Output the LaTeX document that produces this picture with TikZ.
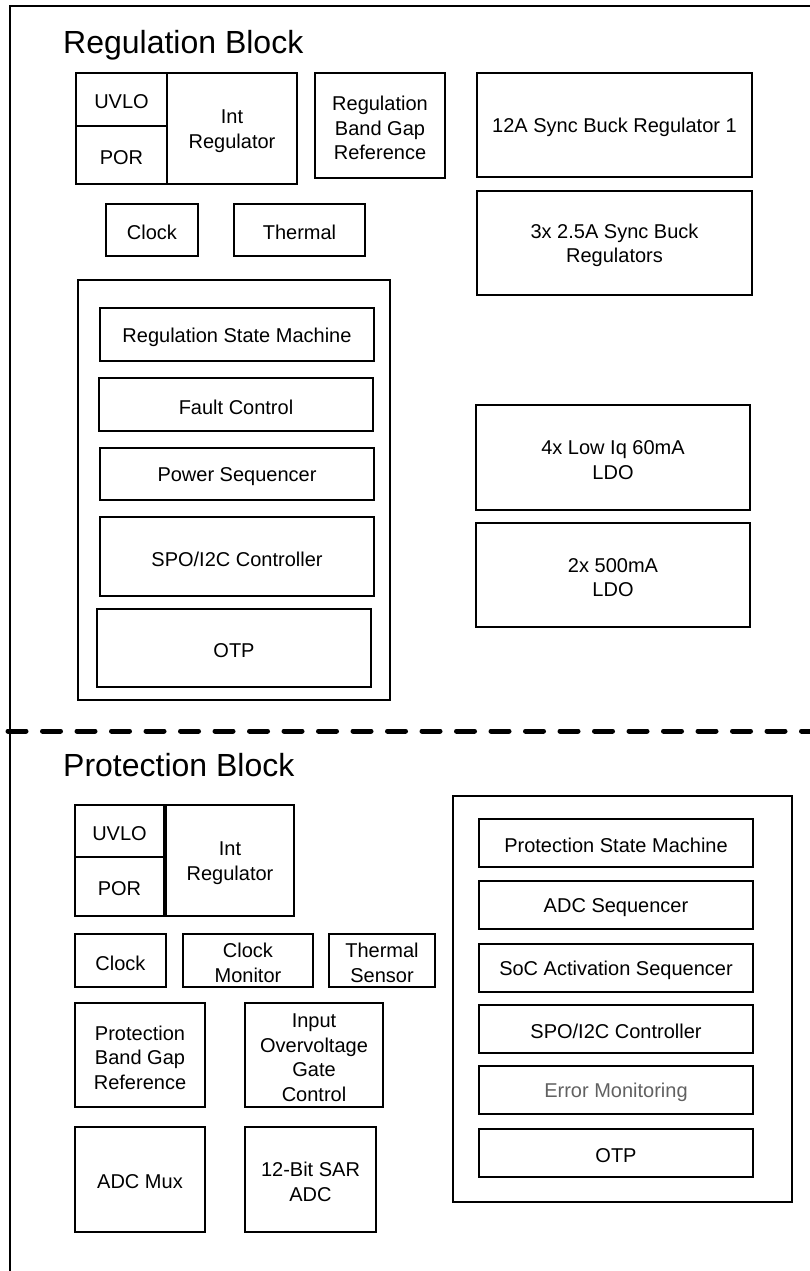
\documentclass[tikz,border=0pt]{standalone}
\usepackage{fontspec}
\setmainfont{Liberation Sans}
\tikzset{
  box/.style={draw, line width=2pt, inner sep=0pt, outer sep=0pt, anchor=north west},
  boxtext/.style={inner sep=0pt, outer sep=0pt, align=center, anchor=center, yshift=-2.5pt,
    font=\fontsize{20}{24.5}\selectfont},
  blocktitle/.style={font=\fontsize{32}{38}\selectfont, anchor=base west, inner sep=0pt},
  frameline/.style={line width=2pt},
  divider/.style={line width=5pt, dash pattern=on 18pt off 16.5pt, line cap=round},
  graytext/.style={text=black!62}
}
\newcommand\bx[7][]{%
  \node[box,minimum width=#5pt-#3pt,minimum height=#6pt-#4pt] (#2) at (#3,#4) {};
  \node[boxtext,#1] (#2-text) at (#2.center) {#7};}
\begin{document}
\begin{tikzpicture}[x=1pt,y=-1pt]
\useasboundingbox (0,0) rectangle (810,1271);
% outer frame
\coordinate (fbl) at (10,1271);
\coordinate (ftl) at (10,6);
\coordinate (ftr) at (810,6);
\draw[frameline] (fbl) -- (ftl) -- (ftr);
% divider
\coordinate (dl) at (8,731);
\coordinate (dr) at (812,731);
\draw[divider] (dl) -- (dr);

% ---------------- Regulation block ----------------
\node[blocktitle] (rtitle) at (63,54) {Regulation Block};
\bx{rUVLO}{76}{73}{167}{126}{UVLO}
\bx{rPOR}{76}{126}{167}{184}{POR}
\bx{rInt}{167}{73}{297}{184}{Int\\Regulator}
\bx{rBG}{315}{73}{445}{178}{Regulation\\Band Gap\\Reference}
\bx{rClk}{106}{204}{198}{256}{Clock}
\bx{rTherm}{234}{204}{365}{256}{Thermal}
\bx{rBuck1}{477}{73}{752}{177}{12A Sync Buck Regulator 1}
\bx{rBuck3}{477}{191}{752}{295}{3x 2.5A Sync Buck\\Regulators}
\bx{rCtrl}{78}{280}{390}{700}{}
\bx{rRSM}{100}{308}{374}{361}{Regulation State Machine}
\bx{rFault}{99}{378}{373}{431}{Fault Control}
\bx{rPS}{100}{448}{374}{500}{Power Sequencer}
\bx{rSPO}{100}{517}{374}{596}{SPO/I2C Controller}
\bx{rOTP}{97}{609}{371}{687}{OTP}
\bx{rLDO4}{476}{405}{750}{510}{4x Low Iq 60mA\\LDO}
\bx{rLDO2}{476}{523}{750}{627}{2x 500mA\\LDO}

% ---------------- Protection block ----------------
\node[blocktitle] (ptitle) at (63,776) {Protection Block};
\bx{pUVLO}{75}{805}{164}{857}{UVLO}
\bx{pPOR}{75}{857}{164}{916}{POR}
\bx{pInt}{166}{805}{294}{916}{Int\\Regulator}
\bx{pClk}{75}{934}{166}{987}{Clock}
\bx{pClkMon}{183}{934}{313}{987}{Clock\\Monitor}
\bx{pTherm}{329}{934}{435}{987}{Thermal\\Sensor}
\bx{pBG}{75}{1003}{205}{1107}{Protection\\Band Gap\\Reference}
\bx{pOVP}{245}{1003}{383}{1107}{Input\\Overvoltage\\Gate\\Control}
\bx{pMux}{75}{1127}{205}{1232}{ADC Mux}
\bx{pADC}{245}{1127}{376}{1232}{12-Bit SAR\\ADC}
\bx{pCtrl}{453}{796}{792}{1202}{}
\bx{pPSM}{479}{819}{753}{867}{Protection State Machine}
\bx{pADCSeq}{479}{881}{753}{929}{ADC Sequencer}
\bx{pSoC}{479}{944}{753}{992}{SoC Activation Sequencer}
\bx{pSPO}{479}{1005}{753}{1053}{SPO/I2C Controller}
\bx[graytext]{pErr}{479}{1066}{753}{1114}{Error Monitoring}
\bx{pOTP}{479}{1129}{753}{1177}{OTP}
\end{tikzpicture}
\end{document}
